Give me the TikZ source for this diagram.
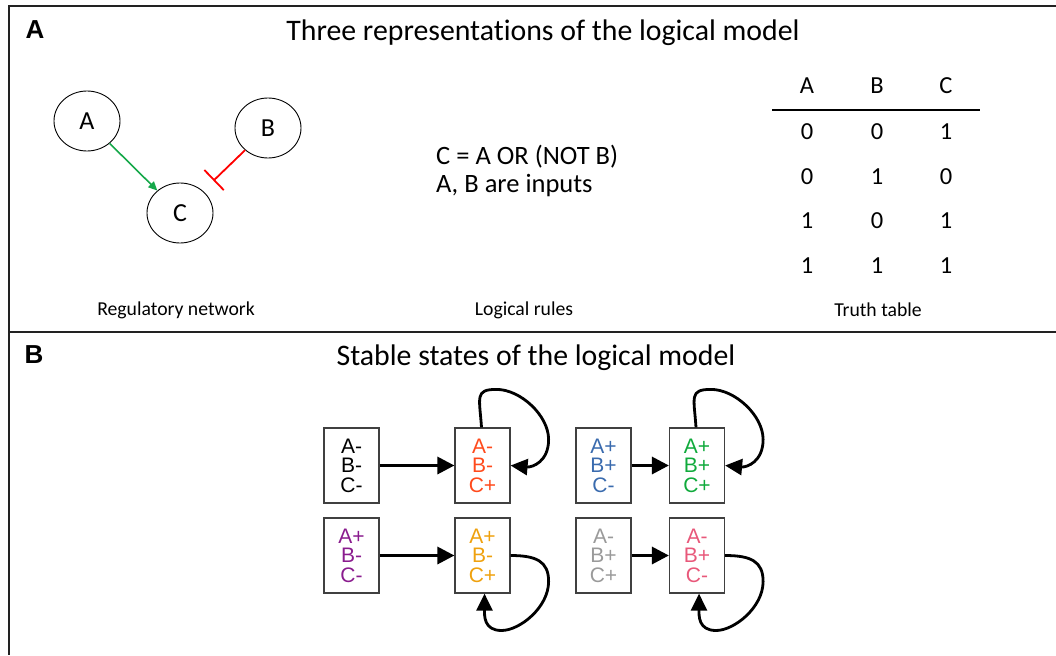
\documentclass[tikz,border=0pt]{standalone}
\usepackage{fontspec}
\setmainfont{Carlito}[Ligatures=NoCommon]
\newfontfamily\arialf{Liberation Sans}
\usetikzlibrary{arrows.meta,calc,shapes.geometric}
\definecolor{frame}{HTML}{222222}
\definecolor{cor}{HTML}{FF4A1C}
\definecolor{cbl}{HTML}{3A6BAE}
\definecolor{cgr}{HTML}{10AA3C}
\definecolor{cpu}{HTML}{8A1C8E}
\definecolor{cam}{HTML}{EFA10E}
\definecolor{cgy}{HTML}{9A9A9A}
\definecolor{cpk}{HTML}{E8587A}
\definecolor{agreen}{HTML}{16A84A}
\tikzset{
  ell/.style={draw, ellipse, minimum width=66pt, minimum height=60pt, inner sep=0pt, line width=0.9pt, font=\fontsize{26}{28}\selectfont},
  stbox/.style={draw=black!75, line width=1.2pt, minimum width=55pt, minimum height=75pt, inner sep=0pt, align=center, font=\arialf\fontsize{21}{19.5}\selectfont},
  bigarr/.style={-{Triangle[length=17pt,width=17pt]}, line width=3.2pt},
  selfloop/.style={-{Triangle[length=17pt,width=16pt]}, line width=2.8pt},
  captxt/.style={font=\fontsize{19.7}{21}\selectfont},
  tabtxt/.style={font=\fontsize{24.5}{26}\selectfont},
  ttl/.style={font=\fontsize{29.8}{32}\selectfont},
  plab/.style={font=\arialf\bfseries\fontsize{26}{28}\selectfont},
}
\begin{document}
\begin{tikzpicture}[x=1pt,y=-1pt]
\useasboundingbox (0,0) rectangle (1056,655);
% frame
\coordinate (tl) at (9,6);
\coordinate (tr) at (1056,6);
\coordinate (bl) at (9,655);
\coordinate (ml) at (9,332);
\coordinate (mr) at (1056,332);
\draw[frame, line width=2pt] (tr) -- (tl) -- (bl);
\draw[frame, line width=2pt] (ml) -- (mr);
% panel labels
\node[plab] (lA) at (35,30) {A};
\node[plab] (lB) at (34,355) {B};
\node[ttl] (tA) at (543,33) {Three representations of the logical model};
\node[ttl] (tB) at (536,358) {Stable states of the logical model};
% network
\node[ell] (nA) at (87,121) {A};
\node[ell] (nB) at (268,128) {B};
\node[ell] (nC) at (180,213) {C};
\draw[agreen, line width=1.6pt, -{Triangle[length=9pt,width=8pt]}] (nA) -- (nC);
\coordinate (barpt) at ($(nB)!0.62!(nC)$);
\draw[red, line width=1.8pt, -{Bar[width=28pt]}] (nB) -- (barpt);
% rules
\node[anchor=west, font=\fontsize{26.5}{28}\selectfont, align=left, inner sep=0pt] (rules) at (436,171) {C = A OR (NOT B)\\A, B are inputs};
% truth table
\foreach \x/\c in {807/A,877/B,946/C} {
  \node[tabtxt] (h\c) at (\x,86) {\c};
}
\coordinate (t1) at (772,110);
\coordinate (t2) at (980,110);
\draw[line width=1.4pt] (t1) -- (t2);
\foreach \y/\a/\b/\cc [count=\i] in {132/0/0/1, 177/0/1/0, 221/1/0/1, 266/1/1/1} {
  \node[tabtxt] (ra\i) at (807,\y) {\a};
  \node[tabtxt] (rb\i) at (877,\y) {\b};
  \node[tabtxt] (rc\i) at (946,\y) {\cc};
}
% captions
\node[captxt] (c1) at (176,310) {Regulatory network};
\node[captxt] (c2) at (524,310) {Logical rules};
\node[captxt] (c3) at (878,310) {Truth table};
% states
\node[stbox, text=black] (s1) at (351.5,465.5) {A-\\B-\\C-};
\node[stbox, text=cor] (s2) at (482.5,465.5) {A-\\B-\\C+};
\node[stbox, text=cbl] (s3) at (603.5,465.5) {A+\\B+\\C-};
\node[stbox, text=cgr] (s4) at (697,465.5) {A+\\B+\\C+};
\node[stbox, text=cpu] (s5) at (351.5,555.5) {A+\\B-\\C-};
\node[stbox, text=cam] (s6) at (482.5,555.5) {A+\\B-\\C+};
\node[stbox, text=cgy] (s7) at (603.5,555.5) {A-\\B+\\C+};
\node[stbox, text=cpk] (s8) at (697,555.5) {A-\\B+\\C-};
\draw[bigarr] (s1) -- (s2);
\draw[bigarr] (s3) -- (s4);
\draw[bigarr] (s5) -- (s6);
\draw[bigarr] (s7) -- (s8);
% self loops
\foreach \s in {s2,s4} {
  \draw[selfloop] ($(\s.north)+(-1,0)$) .. controls +(-2,-30) and +(-22,0) .. ($(\s.north)+(14,-38)$)
     .. controls +(24,0) and +(0,-24) .. ($(\s.east)+(38,-26)$)
     .. controls +(0,22) and +(22,2) .. (\s.east);
}
\foreach \s in {s6,s8} {
  \draw[selfloop] (\s.east) .. controls +(26,0) and +(0,-20) .. ($(\s.east)+(38,26)$)
     .. controls +(0,26) and +(18,0) .. ($(\s.east)+(-9,75)$)
     .. controls +(-18,0) and +(0,22) .. ($(\s.south)+(2,0)$);
}
\end{tikzpicture}
\end{document}
